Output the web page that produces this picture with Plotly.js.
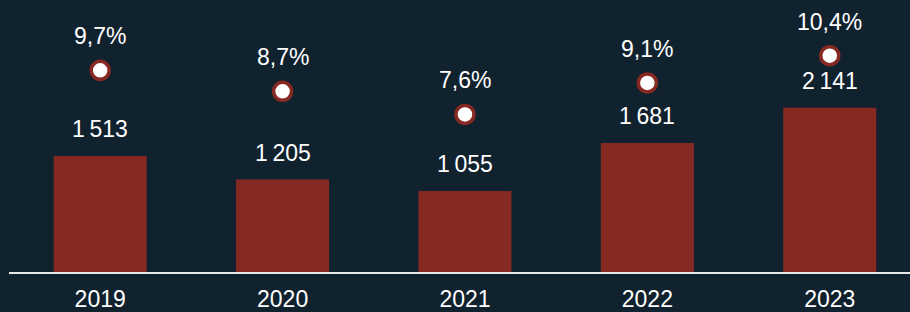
<!DOCTYPE html>
<html>
<head>
<meta charset="utf-8">
<script src="https://cdn.plot.ly/plotly-3.0.1.min.js"></script>
<style>
  html, body { margin: 0; padding: 0; background: #11222f; }
  #chart { width: 910px; height: 312px; }
</style>
</head>
<body>
<div id="chart"></div>
<script>
const years = ['2019', '2020', '2021', '2022', '2023'];
const amounts = [1513, 1205, 1055, 1681, 2141];
const shares = [9.7, 8.7, 7.6, 9.1, 10.4];

const BG = '#11222f';
const RED = '#872923';
const FONT = '"Liberation Sans", Arial, sans-serif';

function fmtAmount(v) {
  return String(v).replace(/\B(?=(\d{3})+(?!\d))/g, '\u2009');
}
function fmtShare(v) {
  return v.toFixed(1).replace('.', ',') + '%';
}

const bars = {
  type: 'bar',
  x: years.map((_, i) => i),
  y: amounts,
  width: 0.51,
  marker: { color: RED, line: { width: 0 } },
  hoverinfo: 'skip',
  yaxis: 'y'
};

const dots = {
  type: 'scatter',
  mode: 'markers',
  x: years.map((_, i) => i),
  y: shares,
  yaxis: 'y2',
  marker: { size: 18, color: '#ffffff', line: { color: RED, width: 3.5 } },
  hoverinfo: 'skip'
};

const annotations = [];
years.forEach((yr, i) => {
  annotations.push({
    x: i, y: amounts[i], xref: 'x', yref: 'y',
    text: fmtAmount(amounts[i]), showarrow: false,
    yanchor: 'middle', yshift: 27,
    font: { family: FONT, size: 23, color: '#ffffff' }
  });
  annotations.push({
    x: i, y: shares[i], xref: 'x', yref: 'y2',
    text: fmtShare(shares[i]), showarrow: false,
    yanchor: 'middle', yshift: 34,
    font: { family: FONT, size: 23, color: '#ffffff' }
  });
});

const layout = {
  width: 910, height: 312,
  margin: { l: 9, r: 0, t: 0, b: 40, pad: 0 },
  paper_bgcolor: BG, plot_bgcolor: BG,
  showlegend: false,
  font: { family: FONT, color: '#ffffff', size: 23 },
  xaxis: {
    range: [-0.5, 4.44],
    tickmode: 'array',
    tickvals: years.map((_, i) => i),
    ticktext: years,
    ticks: '',
    ticklabelstandoff: 5,
    showgrid: false, zeroline: false,
    showline: true, linecolor: '#e8e8e8', linewidth: 2,
    tickfont: { family: FONT, size: 23, color: '#ffffff' },
    fixedrange: true
  },
  yaxis: {
    range: [0, 3546],
    visible: false, showgrid: false, zeroline: false, fixedrange: true
  },
  yaxis2: {
    range: [0.1, 13.05],
    overlaying: 'y', side: 'right',
    visible: false, showgrid: false, zeroline: false, fixedrange: true
  },
  annotations: annotations
};

Plotly.newPlot('chart', [bars, dots], layout, { staticPlot: true, displayModeBar: false });
</script>
</body>
</html>
